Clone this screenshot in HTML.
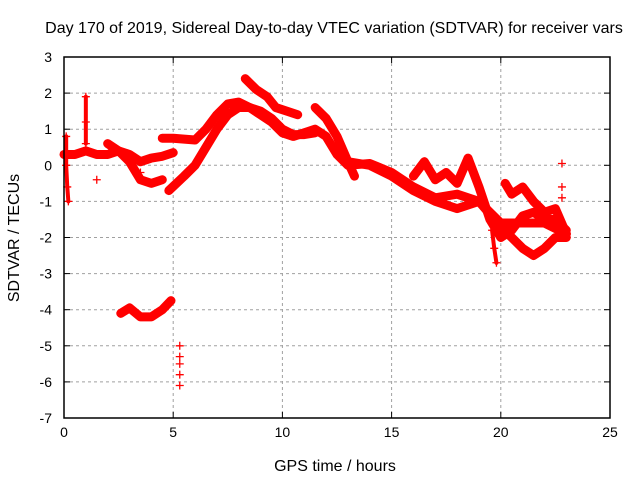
<!DOCTYPE html>
<html><head><meta charset="utf-8"><style>
body{margin:0;background:#fff}
svg{display:block;font-family:"Liberation Sans",sans-serif}
</style></head><body>
<svg id="chart" width="640" height="480">
<text x="334" y="33" text-anchor="middle" font-size="16">Day 170 of 2019, Sidereal Day-to-day VTEC variation (SDTVAR) for receiver vars</text>
<text x="335" y="471" text-anchor="middle" font-size="16">GPS time / hours</text>
<text transform="translate(19,238) rotate(-90)" text-anchor="middle" font-size="16">SDTVAR / TECUs</text>
<g id="grid"></g><g id="marks"></g>
<rect x="64" y="57" width="546" height="361" fill="none" stroke="#000" stroke-width="1.5"/>
</svg>
<script>
const xTicks=[0,5,10,15,20,25];
const yTicks=[3,2,1,0,-1,-2,-3,-4,-5,-6,-7];
const trackA=[[0,0.3],[0.5,0.3],[1,0.4],[1.5,0.3],[2,0.3],[2.5,0.4],[3,0.1],[3.5,-0.4],[4,-0.5],[4.5,-0.4]];
const trackB=[[2,0.6],[2.5,0.4],[3,0.3],[3.5,0.1],[4,0.2],[4.5,0.25],[5,0.35]];
const trackC=[[4.8,-0.7],[5.5,-0.3],[6,0],[6.5,0.5],[7,1.0],[7.5,1.4],[8,1.6],[8.5,1.6],[9,1.5],[9.5,1.3],[10,1.0],[10.5,0.85],[11,0.85],[11.5,0.9]];
const trackD=[[4.5,0.75],[5,0.75],[6,0.7],[6.5,1.0],[7,1.4],[7.5,1.7],[8,1.75],[8.5,1.6],[9,1.4],[9.5,1.2],[10,0.9],[10.5,0.8],[11,0.9],[11.5,1.0],[12,0.8],[12.5,0.3],[13,0],[14,0.05],[15,-0.2],[16,-0.6],[17,-0.9],[18,-0.8],[19,-1.0],[20,-1.7],[21,-2.3],[21.5,-2.5],[22,-2.3],[22.5,-2.0],[23,-2.0]];
const trackE=[[8.3,2.4],[8.8,2.1],[9.3,1.9],[9.7,1.6],[10.2,1.5],[10.7,1.4]];
const trackF=[[11.5,1.6],[12,1.3],[12.5,0.8],[13,0.1],[13.3,-0.3]];
const trackG1=[[13,0.1],[14,0],[15,-0.3],[16,-0.7],[17,-1.0],[18,-1.2],[19,-1.0],[20,-1.6],[21,-1.6],[22,-1.6],[23,-1.9]];
const trackG2=[[16,-0.3],[16.5,0.1],[17,-0.4],[17.5,-0.2],[18,-0.5],[18.5,0.2],[19,-0.6],[19.5,-1.5],[20,-2.0],[20.5,-1.8],[21,-1.4],[21.5,-1.3],[22,-1.5],[22.5,-1.5],[23,-1.8]];
const trackG3=[[20.2,-0.5],[20.5,-0.8],[21,-0.6],[21.5,-1.0],[22,-1.3],[22.5,-1.2],[23,-1.9]];
const trackH=[[2.6,-4.1],[3,-3.95],[3.5,-4.2],[4,-4.2],[4.5,-4.0],[4.9,-3.75]];
const trackSpike1=[[1.0,1.9],[1.0,1.2],[1.0,0.6]];
const trackSpike0=[[0.1,0.8],[0.1,0],[0.15,-0.6],[0.2,-1.0]];
const trackSpike19=[[19.6,-1.8],[19.7,-2.3],[19.8,-2.7]];
const isolated=[[5.3,-5.0],[5.3,-5.3],[5.3,-5.5],[5.3,-5.8],[5.3,-6.1],[22.8,0.05],[22.8,-0.6],[22.8,-0.9],[1.5,-0.4],[3.5,-0.2]];
const tracks=[trackA,trackB,trackC,trackD,trackE,trackF,trackG1,trackG2,trackG3,trackH,trackSpike1,trackSpike0,trackSpike19];
const X=h=>64+h*21.84, Y=v=>165.3-v*36.1;
const NS="http://www.w3.org/2000/svg";
const grid=document.getElementById('grid'),marks=document.getElementById('marks');
function mk(t,a,p){const e=document.createElementNS(NS,t);for(const k in a)e.setAttribute(k,a[k]);p.appendChild(e);return e;}
xTicks.forEach(t=>{
 if(t>0&&t<25){const l=mk('line',{x1:X(t),x2:X(t),y1:57,y2:418,stroke:'#a0a0a0','stroke-dasharray':'3,3'},grid);
 
 }
 mk('line',{x1:X(t),x2:X(t),y1:418,y2:412,stroke:'#000'},grid);mk('line',{x1:X(t),x2:X(t),y1:57,y2:63,stroke:'#000'},grid);
 const s=mk('text',{x:X(t),y:437,'text-anchor':'middle','font-size':'14'},grid);s.textContent=t;
 
 
});
yTicks.forEach(t=>{
 if(t<3&&t>-7){const l=mk('line',{x1:64,x2:610,y1:Y(t),y2:Y(t),stroke:'#a0a0a0','stroke-dasharray':'3,3'},grid);
 
 }
 mk('line',{x1:64,x2:70,y1:Y(t),y2:Y(t),stroke:'#000'},grid);mk('line',{x1:604,x2:610,y1:Y(t),y2:Y(t),stroke:'#000'},grid);
 const s=mk('text',{x:52,y:Y(t)+5,'text-anchor':'end','font-size':'14'},grid);s.textContent=t;
 
 
});
tracks.forEach(tr=>{
 const p=mk('polyline',{points:tr.map(d=>X(d[0])+','+Y(d[1])).join(' '),fill:'none',stroke:'#f00','stroke-width':tr.length<5?4:9,'stroke-linejoin':'round','stroke-linecap':'round'},marks);
 
 
});
function plus(d){const x=X(d[0]),y=Y(d[1]);
 const p=mk('path',{d:`M${x-4},${y}H${x+4}M${x},${y-4}V${y+4}`,stroke:'#f00','stroke-width':1.3},marks);
 
 }
tracks.forEach(tr=>tr.forEach(plus));
isolated.forEach(plus);
</script>
</body></html>
